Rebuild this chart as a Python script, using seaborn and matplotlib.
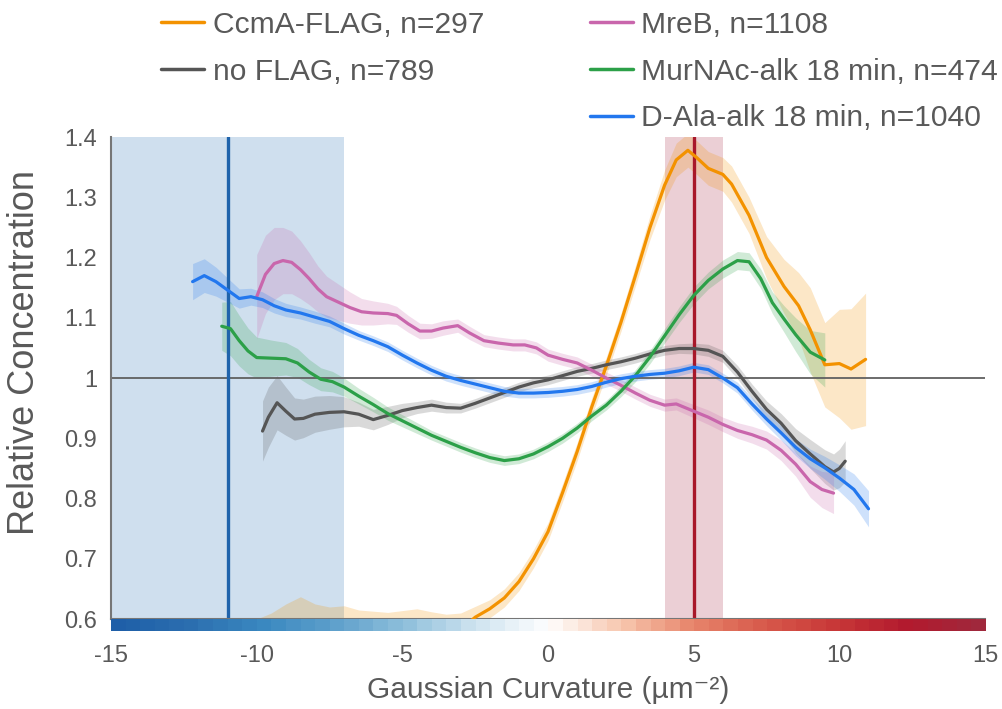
import numpy as np
import pandas as pd
import matplotlib
matplotlib.use("Agg")
import matplotlib.pyplot as plt
import seaborn as sns
from matplotlib.lines import Line2D
from matplotlib.colors import LinearSegmentedColormap

# ---- series: curvature (x), mean relative concentration (y), half-width of band (s) ----
ccma_x = [-10.0, -9.5, -9.0, -8.5, -8.0, -7.5, -7.0, -6.5, -6.0, -5.5, -5.0, -4.5, -4.0, -3.5,
          -3.0, -2.5, -2.0, -1.5, -1.0, -0.5, 0.0, 0.5, 1.0, 1.5, 2.0, 2.5, 3.0, 3.5, 4.0, 4.4,
          4.8, 5.1, 5.5, 6.0, 6.3, 6.9, 7.5, 8.1, 8.6, 9.0, 9.5, 10.0, 10.4, 10.9]
ccma_y = [0.540, 0.545, 0.550, 0.555, 0.552, 0.550, 0.552, 0.550, 0.550, 0.552, 0.555, 0.558, 0.562, 0.570,
          0.582, 0.603, 0.617, 0.635, 0.662, 0.700, 0.745, 0.810, 0.878, 0.952, 1.020, 1.092, 1.170, 1.250, 1.320, 1.362,
          1.378, 1.366, 1.348, 1.338, 1.322, 1.270, 1.200, 1.152, 1.120, 1.080, 1.022, 1.024, 1.015, 1.031]
ccma_s = [0.060, 0.065, 0.075, 0.082, 0.073, 0.070, 0.070, 0.065, 0.063, 0.059, 0.059, 0.059, 0.050, 0.038,
          0.028, 0.018, 0.015, 0.015, 0.015, 0.015, 0.015, 0.015, 0.015, 0.015, 0.015, 0.015, 0.017, 0.020, 0.025, 0.028,
          0.028, 0.028, 0.028, 0.028, 0.030, 0.030, 0.035, 0.045, 0.055, 0.070, 0.070, 0.090, 0.100, 0.110]

noflag_x = [-9.8, -9.6, -9.3, -9.0, -8.7, -8.4, -8.0, -7.5, -7.0, -6.5, -6.0, -5.5, -5.0, -4.5, -4.0,
            -3.5, -3.0, -2.5, -2.0, -1.5, -1.0, -0.5, 0.0, 0.5, 1.0, 1.5, 2.0, 2.5, 3.0, 3.5, 4.0,
            4.5, 5.0, 5.5, 6.0, 6.5, 7.0, 7.5, 8.0, 8.5, 9.0, 9.5, 9.8, 10.0, 10.2]
noflag_y = [0.912, 0.935, 0.959, 0.945, 0.932, 0.933, 0.940, 0.943, 0.944, 0.940, 0.931, 0.938, 0.946, 0.951, 0.955,
            0.951, 0.950, 0.958, 0.967, 0.976, 0.985, 0.992, 0.997, 1.004, 1.011, 1.016, 1.022, 1.027, 1.033, 1.040, 1.046,
            1.049, 1.049, 1.046, 1.036, 1.010, 0.978, 0.948, 0.925, 0.896, 0.874, 0.853, 0.844, 0.850, 0.862]
noflag_s = [0.050, 0.050, 0.045, 0.040, 0.035, 0.032, 0.030, 0.028, 0.025, 0.020, 0.017, 0.015, 0.012, 0.010, 0.010,
            0.009, 0.008, 0.008, 0.008, 0.008, 0.008, 0.008, 0.008, 0.008, 0.008, 0.008, 0.008, 0.008, 0.008, 0.008, 0.008,
            0.008, 0.009, 0.010, 0.010, 0.011, 0.012, 0.014, 0.016, 0.020, 0.024, 0.028, 0.030, 0.032, 0.034]

mreb_x = [-10.0, -9.7, -9.4, -9.1, -8.8, -8.5, -8.2, -7.9, -7.6, -7.2, -6.8, -6.4, -6.0, -5.5, -5.2,
          -4.8, -4.4, -4.0, -3.6, -3.1, -2.7, -2.2, -1.7, -1.2, -0.8, -0.4, 0.0, 0.5, 1.0, 1.5,
          2.0, 2.5, 3.0, 3.5, 4.0, 4.4, 5.0, 5.5, 6.0, 6.5, 7.0, 7.5, 8.0, 8.5, 9.0, 9.4, 9.8]
mreb_y = [1.135, 1.172, 1.190, 1.195, 1.192, 1.180, 1.165, 1.148, 1.135, 1.126, 1.117, 1.110, 1.108, 1.107, 1.104,
          1.090, 1.078, 1.078, 1.083, 1.087, 1.075, 1.062, 1.058, 1.055, 1.055, 1.050, 1.038, 1.031, 1.025, 1.013,
          1.000, 0.988, 0.975, 0.963, 0.955, 0.957, 0.945, 0.935, 0.923, 0.913, 0.906, 0.897, 0.880, 0.857, 0.828, 0.815, 0.809]
mreb_s = [0.070, 0.065, 0.060, 0.055, 0.052, 0.048, 0.043, 0.038, 0.034, 0.030, 0.026, 0.022, 0.020, 0.017, 0.015,
          0.014, 0.013, 0.012, 0.012, 0.011, 0.011, 0.010, 0.010, 0.010, 0.010, 0.010, 0.010, 0.010, 0.010, 0.010,
          0.010, 0.010, 0.010, 0.010, 0.010, 0.010, 0.011, 0.012, 0.012, 0.013, 0.014, 0.015, 0.017, 0.020, 0.026, 0.030, 0.034]

murnac_x = [-11.2, -10.9, -10.6, -10.3, -10.0, -9.5, -9.0, -8.6, -8.2, -7.8, -7.4, -7.0, -6.5, -6.0, -5.5,
            -5.0, -4.5, -4.0, -3.5, -3.0, -2.5, -2.0, -1.5, -1.0, -0.5, 0.0, 0.5, 1.0, 1.5, 2.0,
            2.5, 3.0, 3.5, 4.0, 4.5, 5.0, 5.5, 6.0, 6.5, 6.9, 7.3, 7.7, 8.1, 8.5, 9.0, 9.5]
murnac_y = [1.086, 1.082, 1.062, 1.045, 1.034, 1.033, 1.032, 1.025, 1.010, 0.998, 0.994, 0.985, 0.970, 0.956, 0.941,
            0.929, 0.917, 0.905, 0.895, 0.885, 0.876, 0.868, 0.863, 0.866, 0.874, 0.886, 0.900, 0.917, 0.937, 0.955,
            0.978, 1.004, 1.035, 1.070, 1.105, 1.137, 1.162, 1.181, 1.195, 1.193, 1.165, 1.125, 1.098, 1.072, 1.043, 1.030]
murnac_s = [0.040, 0.045, 0.042, 0.038, 0.034, 0.030, 0.027, 0.024, 0.021, 0.019, 0.017, 0.015, 0.013, 0.012, 0.011,
            0.010, 0.009, 0.008, 0.008, 0.008, 0.008, 0.008, 0.008, 0.008, 0.008, 0.008, 0.008, 0.008, 0.008, 0.008,
            0.009, 0.010, 0.011, 0.012, 0.013, 0.014, 0.014, 0.015, 0.015, 0.015, 0.016, 0.018, 0.022, 0.028, 0.036, 0.045]

dala_x = [-12.2, -11.8, -11.4, -11.0, -10.6, -10.2, -9.8, -9.4, -9.0, -8.5, -8.0, -7.5, -7.0, -6.5, -6.0,
          -5.5, -5.0, -4.5, -4.0, -3.5, -3.0, -2.5, -2.0, -1.5, -1.0, -0.5, 0.0, 0.5, 1.0, 1.5,
          2.0, 2.5, 3.0, 3.5, 4.0, 4.5, 5.0, 5.5, 6.0, 6.5, 7.0, 7.5, 8.0, 8.5, 9.0, 9.5, 10.0, 10.5, 11.0]
dala_y = [1.160, 1.170, 1.160, 1.146, 1.132, 1.135, 1.130, 1.120, 1.113, 1.108, 1.101, 1.094, 1.082, 1.071, 1.062,
          1.052, 1.038, 1.025, 1.013, 1.003, 0.996, 0.990, 0.984, 0.978, 0.975, 0.975, 0.976, 0.978, 0.981, 0.986,
          0.993, 0.999, 1.003, 1.006, 1.008, 1.012, 1.018, 1.014, 1.000, 0.984, 0.957, 0.932, 0.909, 0.885, 0.866,
          0.851, 0.834, 0.815, 0.783]
dala_s = [0.030, 0.028, 0.024, 0.020, 0.016, 0.014, 0.013, 0.012, 0.011, 0.010, 0.010, 0.009, 0.009, 0.008, 0.008,
          0.008, 0.008, 0.008, 0.008, 0.008, 0.008, 0.008, 0.008, 0.008, 0.008, 0.008, 0.008, 0.008, 0.008, 0.008,
          0.008, 0.008, 0.008, 0.008, 0.008, 0.008, 0.008, 0.008, 0.008, 0.009, 0.010, 0.011, 0.012, 0.014, 0.016,
          0.019, 0.022, 0.026, 0.030]

labels = ["CcmA-FLAG, n=297", "no FLAG, n=789", "MreB, n=1108",
          "MurNAc-alk 18 min, n=474", "D-Ala-alk 18 min, n=1040"]
colors = ["#f39200", "#555555", "#c966ac", "#2ca048", "#2277ee"]

# reference curvatures (negative / positive) with their shaded windows
neg_center, neg_window = -11.0, (-15.0, -7.0)
pos_center, pos_window = 5.0, (4.0, 6.0)

x_ticks = [-15, -10, -5, 0, 5, 10, 15]
y_ticks = [0.6, 0.7, 0.8, 0.9, 1.0, 1.1, 1.2, 1.3, 1.4]
y_tick_labels = ["0.6", "0.7", "0.8", "0.9", "1", "1.1", "1.2", "1.3", "1.4"]

# diverging curvature palette for the strip under the x axis
strip_colors = ["#1f5fa8", "#2c6fb0", "#3a88c0", "#5ea0cc", "#8fc0dc", "#d0e4f0", "#ffffff",
                "#f8c8b0", "#e8866c", "#d85a4c", "#c83838", "#b31a2e", "#a0283c"]
n_strip_cells = 60

series = [(ccma_x, ccma_y, ccma_s), (noflag_x, noflag_y, noflag_s), (mreb_x, mreb_y, mreb_s),
          (murnac_x, murnac_y, murnac_s), (dala_x, dala_y, dala_s)]

frames = []
for lab, (xs, ys, ss) in zip(labels, series):
    frames.append(pd.DataFrame({"x": xs, "y": ys, "s": ss, "series": lab}))
df = pd.concat(frames, ignore_index=True)

sns.set_theme(style="white")
plt.rcParams["font.family"] = ["Liberation Sans", "DejaVu Sans"]
text_col = "#595959"
axis_col = "#767676"

fig = plt.figure(figsize=(10.03, 7.09), dpi=100)
ax = fig.add_axes([0.1107, 0.1269, 0.8714, 0.6798])

# shaded curvature windows and their centres
ax.axvspan(*neg_window, color="#cfdfee", lw=0, zorder=0)
ax.axvspan(*pos_window, color="#ebcfd5", lw=0, zorder=0)

# confidence bands
for lab, col in zip(labels, colors):
    d = df[df["series"] == lab]
    ax.fill_between(d["x"], d["y"] - d["s"], d["y"] + d["s"], color=col, alpha=0.22, lw=0, zorder=1)

ax.axhline(1.0, color="#606060", lw=1.3, zorder=1.5)
ax.axvline(neg_center, color="#1f63ab", lw=2.4, zorder=2)
ax.axvline(pos_center, color="#a8182a", lw=2.4, zorder=2)

sns.lineplot(data=df, x="x", y="y", hue="series", hue_order=labels, palette=colors,
             estimator=None, sort=False, lw=2.3, legend=False, ax=ax, zorder=3)
for ln in ax.get_lines()[-len(labels):]:
    ln.set_solid_joinstyle("round")
    ln.set_solid_capstyle("round")

ax.set_xlim(-15, 15)
ax.set_ylim(0.6, 1.4)
ax.set_xticks(x_ticks)
ax.set_xticklabels([str(t) for t in x_ticks])
ax.set_yticks(y_ticks)
ax.set_yticklabels(y_tick_labels)
for side in ["top", "right"]:
    ax.spines[side].set_visible(False)
for side in ["left", "bottom"]:
    ax.spines[side].set_color(axis_col)
    ax.spines[side].set_linewidth(1.5)
ax.tick_params(axis="both", direction="in", length=9, width=1.5, color=axis_col,
               labelcolor=text_col, labelsize=17)
ax.tick_params(axis="x", pad=19)
ax.tick_params(axis="y", pad=10)
ax.set_xlabel("Gaussian Curvature (µm⁻²)", fontsize=21.5, color=text_col, labelpad=6)
ax.set_ylabel("Relative Concentration", fontsize=26, color=text_col)
ax.yaxis.set_label_coords(-0.079, 0.553)

# curvature colour strip beneath the x axis
strip = ax.inset_axes([0, -0.024, 1, 0.024])
strip_cmap = LinearSegmentedColormap.from_list("curv", strip_colors)
cells = np.linspace(0, 1, n_strip_cells)[None, :]
strip.imshow(cells, cmap=strip_cmap, vmin=0, vmax=1, aspect="auto", extent=[-15, 15, 0, 1],
             interpolation="nearest")
strip.set_axis_off()

# legend in two columns above the plot
h = [Line2D([], [], color=c, lw=2.5) for c in colors]
leg_kw = dict(frameon=False, fontsize=21.6, handlelength=1.43, handletextpad=0.29,
              labelspacing=0.63, borderpad=0, borderaxespad=0, labelcolor=text_col,
              loc="upper left", bbox_transform=fig.transFigure)
leg1 = fig.legend(h[:2], labels[:2], bbox_to_anchor=(0.161, 0.985), **leg_kw)
leg2 = fig.legend(h[2:], labels[2:], bbox_to_anchor=(0.588, 0.985), **leg_kw)

fig.savefig("out.png", dpi=100)
